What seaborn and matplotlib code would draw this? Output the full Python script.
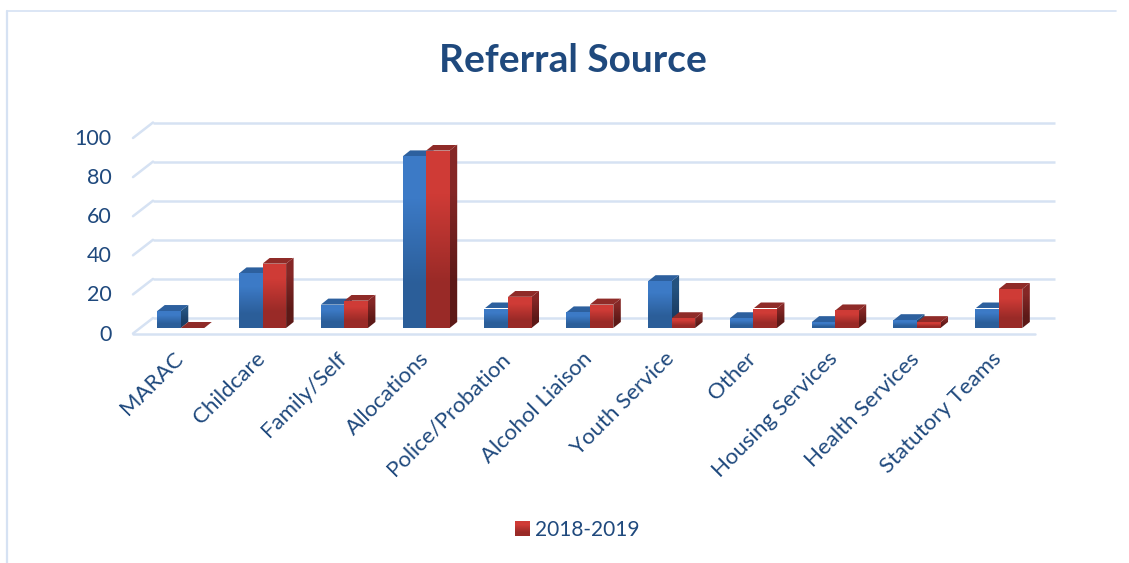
#!/usr/bin/python3
# Referral source bars, drawn with a fake 3D look like the office chart
import numpy as np
import pandas as pd
import matplotlib
matplotlib.use("Agg")
import matplotlib.pyplot as plt
from matplotlib.colors import LinearSegmentedColormap
from matplotlib.lines import Line2D
from matplotlib.patches import Polygon
from matplotlib.transforms import ScaledTranslation
import seaborn as sns

# data
categories = ["MARAC", "Childcare", "Family/Self", "Allocations", "Police/Probation",
              "Alcohol Liaison", "Youth Service", "Other", "Housing Services",
              "Health Services", "Statutory Teams"]
earlier_values = [8.7, 28, 12, 88, 10, 8, 24, 5, 3, 4, 10]
latest_values = [0, 33, 14, 91, 16, 12, 5, 10, 9, 3, 20]
series_names = ["Earlier", "2018-2019"]
y_ticks = [0, 20, 40, 60, 80, 100]

TEXT = "#1F497D"
GRID = "#D6E2F3"
W, H = 1129, 563

sns.set_theme(style="white")
plt.rcParams["font.family"] = ["Lato", "DejaVu Sans"]

fig = plt.figure(figsize=(W / 100, H / 100), dpi=100)


def px_axes(left, right, top, bottom):
    return fig.add_axes([left / W, 1 - bottom / H, (right - left) / W, (bottom - top) / H])


# panel border, top and left only
fig.add_artist(Line2D([7 / W, 7 / W], [0, 1 - 11 / H], color=GRID, lw=1.6))
fig.add_artist(Line2D([7 / W, 1116 / W], [1 - 11 / H, 1 - 11 / H], color=GRID, lw=1.2))

# back wall with gridlines, x in pixels
wall = px_axes(153, 1055, 122.5, 318)
wall.set_xlim(0, 902)
wall.set_ylim(0, 100)
drop = 15.5 / 1.955
wall.hlines(y_ticks, 0, 902, color=GRID, lw=1.8, clip_on=False)
for v in y_ticks:
    wall.plot([-20, 0], [v - drop, v], color=GRID, lw=1.8, clip_on=False)
wall.plot([-20, 882], [-drop, -drop], color=GRID, lw=1.8, clip_on=False)
wall.set_xticks([])
wall.set_yticks(y_ticks)
wall.tick_params(axis="y", length=0, pad=30, labelsize=15.5, labelcolor=TEXT)
shift = ScaledTranslation(0, -10.5 / 72, fig.dpi_scale_trans)
for lab in wall.get_yticklabels():
    lab.set_transform(lab.get_transform() + shift)
sns.despine(ax=wall, left=True, bottom=True)
wall.patch.set_visible(False)

# bars
df = pd.DataFrame({
    "source": categories * 2,
    "count": earlier_values + latest_values,
    "series": [series_names[0]] * len(categories) + [series_names[1]] * len(categories),
})
ax = px_axes(133, 1055, 133, 328)
ax.patch.set_visible(False)
sns.barplot(data=df, x="source", y="count", hue="series", ax=ax, width=0.575, gap=0,
            palette=["#336CB2", "#B83230"], saturation=1, legend=False)
x_lim = (-0.584, 10.687)
y_lim = (0, 100)
dx = 7.5 * (x_lim[1] - x_lim[0]) / 922
dy = 6 * 100 / 195


def ramp(top, bottom):
    return LinearSegmentedColormap.from_list("r", [top, bottom])


def shade(points, cmap, z):
    pts = np.array(points)
    poly = Polygon(pts, closed=True, transform=ax.transData, fc="none", ec="none")
    ax.add_patch(poly)
    im = ax.imshow([[0], [1]], cmap=cmap, aspect="auto", interpolation="bilinear", zorder=z,
                   extent=(pts[:, 0].min(), pts[:, 0].max(), pts[:, 1].min(), pts[:, 1].max()))
    im.set_clip_path(poly)


looks = [
    (ramp("#3C7AC6", "#2B5E99"), ramp("#2D609E", "#2D609E"), ramp("#24527F", "#1A3C63")),
    (ramp("#CF3B36", "#992A27"), ramp("#8F2B28", "#8F2B28"), ramp("#852726", "#5C1917")),
]
for i, container in enumerate(ax.containers):
    front, lid, side = looks[i]
    z = 3 + i
    for bar in container:
        x0, x1, h = bar.get_x(), bar.get_x() + bar.get_width(), bar.get_height()
        bar.set_visible(False)
        if h > 0:
            shade([(x1, 0), (x1 + dx, dy), (x1 + dx, h + dy), (x1, h)], side, z)
            shade([(x0, 0), (x1, 0), (x1, h), (x0, h)], front, z)
        shade([(x0, h), (x1, h), (x1 + dx, h + dy), (x0 + dx, h + dy)], lid, z)
ax.set_xlim(*x_lim)
ax.set_ylim(*y_lim)
ax.set_xlabel("")
ax.set_ylabel("")
ax.set_yticks([])
ax.tick_params(axis="x", length=0, pad=20)
nudge = ScaledTranslation(-0.5 / 72, 0, fig.dpi_scale_trans)
for lab in ax.get_xticklabels():
    lab.set(rotation=45, ha="right", va="center", rotation_mode="anchor", fontsize=16, color=TEXT)
    lab.set_transform(lab.get_transform() + nudge)
sns.despine(ax=ax, left=True, bottom=True)

fig.text(573 / W, 1 - 60 / H, "Referral Source", ha="center", va="center",
         fontsize=28, fontweight="bold", color=TEXT)

leg = fig.legend(handles=[ax.containers[1]], labels=[series_names[1]], loc="center",
                 bbox_to_anchor=(577 / W, 1 - 530 / H), frameon=False, fontsize=15,
                 labelcolor=TEXT, handlelength=0.72, handleheight=0.7, handletextpad=0.25)

# legend swatch gets the same gradient as the bars
fig.canvas.draw()
box = leg.legend_handles[0].get_window_extent().transformed(fig.transFigure.inverted())
swatch = fig.add_axes(box.bounds)
swatch.imshow([[0], [1]], cmap=looks[1][0], aspect="auto", interpolation="bilinear")
swatch.axis("off")

fig.savefig("out.png", dpi=100)
